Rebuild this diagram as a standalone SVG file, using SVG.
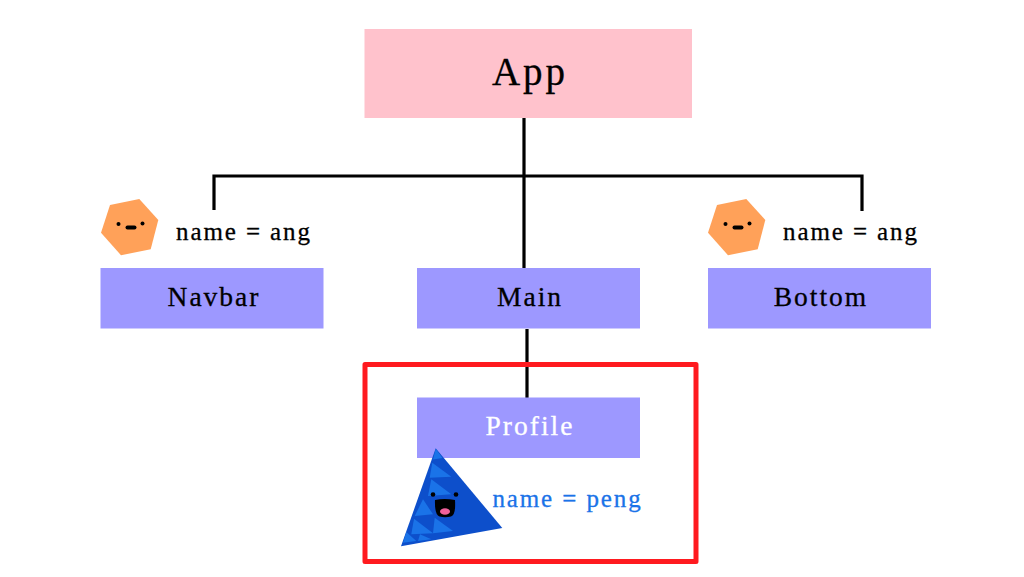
<svg xmlns="http://www.w3.org/2000/svg" width="1024" height="577" viewBox="0 0 1024 577">
<style>
text{font-family:"Liberation Serif","Times New Roman",serif;text-anchor:middle;fill:#000;stroke:#000;stroke-width:.3px}
.box{fill:#9d98ff}
.lbl{font-size:27.5px;letter-spacing:2px}
.nm{font-size:25px;letter-spacing:1.9px}
.line{fill:none;stroke:#000;stroke-width:3.2}
.hex{fill:#ffa159}
.tri2{fill:#1a73e8}
</style>
<defs>
<clipPath id="triClip"><polygon points="435.7,448.3 502.3,528 401,546.3"/></clipPath>
<g id="ang">
<polygon class="hex" points="139.3,199 158.3,220 150.7,249.3 121,255.3 101,232.7 110,205"/>
<circle cx="118.500" cy="224" r="2"/><circle cx="142.500" cy="223.500" r="2"/>
<rect x="125.500" y="225.500" width="11" height="4" rx="2"/>
</g>
</defs>
<rect width="1024" height="577" fill="#fff"/>
<g id="connectors">
<path class="line" d="M524 118V268M214 210V176H862V211M527 329V398"/>
</g>
<g id="app"><rect x="364.500" y="29" width="327.500" height="89" fill="#ffc2cc"/><text x="530" y="85" font-size="39" letter-spacing="3">App</text></g>
<g id="navbar"><rect class="box" x="100.500" y="268" width="223" height="60.500"/><text class="lbl" x="214" y="306">Navbar</text></g>
<g id="main"><rect class="box" x="417" y="268" width="223" height="60.500"/><text class="lbl" x="530" y="306">Main</text></g>
<g id="bottom"><rect class="box" x="708" y="268" width="223" height="60.500"/><text class="lbl" x="821" y="306">Bottom</text></g>
<g id="profile"><rect class="box" x="417" y="397.500" width="223" height="60.500"/><text class="lbl" x="530" y="435" style="fill:#fff;stroke:#fff">Profile</text></g>
<g id="ang-left"><use href="#ang"/><text class="nm" x="244" y="240">name = ang</text></g>
<g id="ang-right"><use href="#ang" x="607"/><text class="nm" x="851" y="240">name = ang</text></g>
<g id="peng">
<polygon points="435.7,448.3 502.3,528 401,546.3" fill="#0d4fcb"/>
<g clip-path="url(#triClip)" class="tri2">
<polygon points="435.7,448.7 442.5,458 433,459.5"/>
<polygon points="432.3,462.7 451.3,476.7 429.7,477.7"/>
<polygon points="431.3,479.3 451.3,494.3 428,496"/>
<polygon points="423,499.3 433,514.3 414.700,516"/>
<polygon points="414,518.7 433,533.3 411.3,534.3"/>
<polygon points="434.7,517.7 453,531 433,533.3"/>
<polygon points="406.3,532 416.3,541 403,542.7"/>
<polygon points="420,534.3 431.3,539.3 418,541"/>
</g>
<circle cx="433" cy="494.500" r="2.300"/><circle cx="456" cy="494.500" r="2.300"/>
<path d="M435 500Q444.500 498 455 500Q456 515 451 516.500Q445 518 439.500 516.500Q434.500 515 435 500Z"/>
<ellipse cx="445" cy="511.500" rx="5" ry="3.300" fill="#f0609a"/>
<text class="nm" x="567.500" y="507" style="fill:#1a73e8;stroke:#1a73e8">name = peng</text>
</g>
<rect id="highlight" x="365" y="364.500" width="331" height="197" fill="none" stroke="#ff1a1f" stroke-width="5" stroke-linejoin="round"/>
</svg>
